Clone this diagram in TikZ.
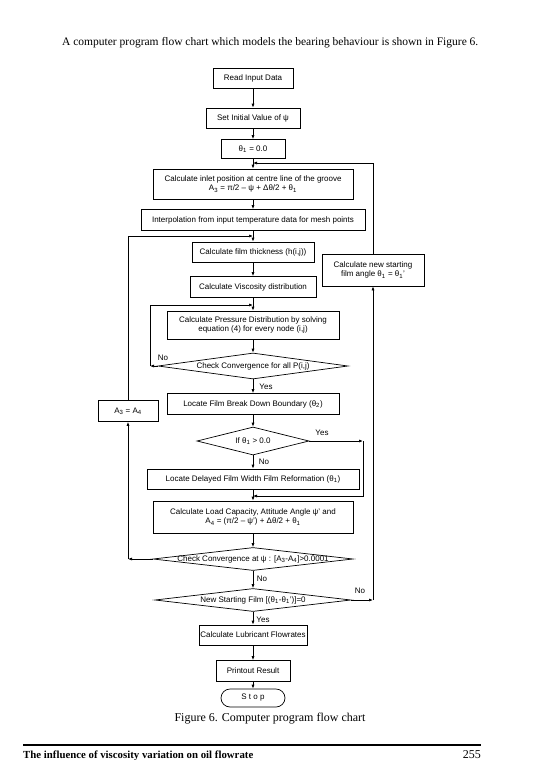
\documentclass[tikz,border=0pt]{standalone}
\usepackage{fontspec}
\setmainfont{Liberation Sans}
\newfontfamily\pageserif{Liberation Serif}
\usetikzlibrary{arrows.meta, shapes.geometric}

\newcommand{\flowfont}{\fontsize{8}{9.5}\selectfont}
\newcommand{\tone}{θ\textsubscript{1}}

\tikzset{
  procbox/.style={draw, line width=0.7pt, inner sep=1pt, font=\flowfont, align=center},
  decide/.style={draw, diamond, inner sep=0pt, line width=0.7pt, font=\flowfont},
  flow/.style={-{Latex[length=4pt,width=3pt]}, line width=0.7pt},
  lbl/.style={font=\flowfont}
}

\begin{document}
\begin{tikzpicture}[x=1pt, y=-1pt]
  \useasboundingbox (0,0) rectangle (538,760);

  % ── Page text ──
  \node[anchor=west, font=\pageserif\fontsize{11.5}{13}\selectfont, inner sep=0pt] (intro) at (62,43)
    {A computer program flow chart which models the bearing behaviour is shown in Figure 6.};

  % ── Main column ──
  \node[procbox, minimum width=80, minimum height=20] (read) at (253,78) {Read Input Data};
  \node[procbox, minimum width=94, minimum height=20] (init) at (253,118) {Set Initial Value of ψ};
  \node[procbox, minimum width=64, minimum height=19] (theta) at (253,149) {\tone{} = 0.0};
  \node[procbox, minimum width=200, minimum height=30] (inlet) at (253,184)
    {Calculate inlet position at centre line of the groove\\
     A\textsubscript{3} = π/2 – ψ + Δθ/2 + \tone};
  \node[procbox, minimum width=224, minimum height=21] (interp) at (253,220)
    {Interpolation from input temperature data for mesh points};
  \node[procbox, minimum width=122, minimum height=20] (film) at (253,252) {Calculate film thickness (h(i,j))};
  \node[procbox, minimum width=126, minimum height=21] (visc) at (253,287) {Calculate Viscosity distribution};
  \node[procbox, minimum width=172, minimum height=28] (press) at (253,325)
    {Calculate Pressure Distribution by solving\\equation (4) for every node (i,j)};
  \node[decide, minimum width=190, minimum height=26] (conv1) at (253,366)
    {\makebox[0pt]{Check Convergence for all P(i,j)}};
  \node[procbox, minimum width=172, minimum height=21] (brk) at (253,404)
    {Locate Film Break Down Boundary (θ\textsubscript{2})};
  \node[decide, minimum width=112, minimum height=28] (ifpos) at (253,441)
    {\makebox[0pt]{If \tone{} > 0.0}};
  \node[procbox, minimum width=212, minimum height=20] (delay) at (253,479)
    {Locate Delayed Film Width Film Reformation (\tone)};
  \node[procbox, minimum width=200, minimum height=32] (load) at (253,517)
    {Calculate Load Capacity, Attitude Angle ψ' and\\
     A\textsubscript{4} = (π/2 – ψ') + Δθ/2 + \tone};
  \node[decide, minimum width=200, minimum height=23] (conv2) at (253,559)
    {\makebox[0pt]{Check Convergence at ψ : [A\textsubscript{3}-A\textsubscript{4}]>0.0001}};
  \node[decide, minimum width=196, minimum height=23] (newfilm) at (253,600)
    {\makebox[0pt]{New Starting Film [(\tone-\tone')]=0}};
  \node[procbox, minimum width=108, minimum height=20] (lubric) at (253,635) {Calculate Lubricant Flowrates};
  \node[procbox, minimum width=74, minimum height=21] (print) at (253,671) {Printout Result};
  \node[procbox, rounded corners=9pt, minimum width=64, minimum height=18] (stop) at (253,698) {S t o p};

  % ── Side boxes ──
  \node[procbox, minimum width=60, minimum height=21] (swap) at (128,411) {A\textsubscript{3} = A\textsubscript{4}};
  \node[procbox, minimum width=102, minimum height=32] (newstart) at (373,270)
    {Calculate new starting\\film angle \tone{} = \tone'};

  % ── Junctions ──
  \coordinate (joinTop) at (253,163);
  \coordinate (joinFilm) at (253,236);
  \coordinate (joinPress) at (253,305);
  \coordinate (joinLoad) at (253,496);
  \coordinate (innerLeft) at (150,366);
  \coordinate (outerLeft) at (128,559);
  \coordinate (rightTurn) at (373,600);
  \coordinate (bypass) at (363,441);

  % ── Main flow ──
  \draw[flow] (read) -- (init);
  \draw[flow] (init) -- (theta);
  \draw[flow] (theta) -- (inlet);
  \draw[flow] (inlet) -- (interp);
  \draw[flow] (interp) -- (film);
  \draw[flow] (film) -- (visc);
  \draw[flow] (visc) -- (press);
  \draw[flow] (press) -- (conv1);
  \draw[flow] (conv1) -- (brk);
  \draw[flow] (brk) -- (ifpos);
  \draw[flow] (ifpos) -- (delay);
  \draw[flow] (delay) -- (load);
  \draw[flow] (load) -- (conv2);
  \draw[flow] (conv2) -- (newfilm);
  \draw[flow] (newfilm) -- (lubric);
  \draw[flow] (lubric) -- (print);
  \draw[flow] (print) -- (stop);

  % ── Loops ──
  \draw[flow] (conv1.west) -- (innerLeft);
  \draw[flow] (innerLeft) |- (joinPress);
  \draw[flow] (conv2.west) -- (outerLeft);
  \draw[flow] (outerLeft) -- (swap.south);
  \draw[flow] (swap.north) |- (joinFilm);
  \draw[flow] (newfilm.east) -- (rightTurn);
  \draw[flow] (rightTurn) -- (newstart.south);
  \draw[flow] (newstart.north) |- (joinTop);
  \draw[flow] (ifpos.east) -- (bypass);
  \draw[flow] (bypass) |- (joinLoad);

  % ── Branch labels ──
  \node[lbl] (noConv1) at (163,358) {No};
  \node[lbl] (yesConv1) at (266,387) {Yes};
  \node[lbl] (yesIf) at (322,433) {Yes};
  \node[lbl] (noIf) at (264,462) {No};
  \node[lbl] (noConv2) at (262,579) {No};
  \node[lbl] (noNew) at (360,591) {No};
  \node[lbl] (yesNew) at (263,620) {Yes};

  % ── Caption and footer ──
  \node[font=\pageserif\fontsize{12}{14}\selectfont] (caption) at (270,719) {Figure 6. Computer program flow chart};
  \coordinate (ruleL) at (23,745);
  \coordinate (ruleR) at (481,745);
  \draw[line width=2pt] (ruleL) -- (ruleR);
  \node[anchor=base west, inner sep=0pt, font=\pageserif\bfseries\fontsize{10.8}{12}\selectfont] (foot) at (23,758)
    {The influence of viscosity variation on oil flowrate};
  \node[anchor=base east, inner sep=0pt, font=\pageserif\fontsize{12}{14}\selectfont] (page) at (481,758) {255};
\end{tikzpicture}
\end{document}
